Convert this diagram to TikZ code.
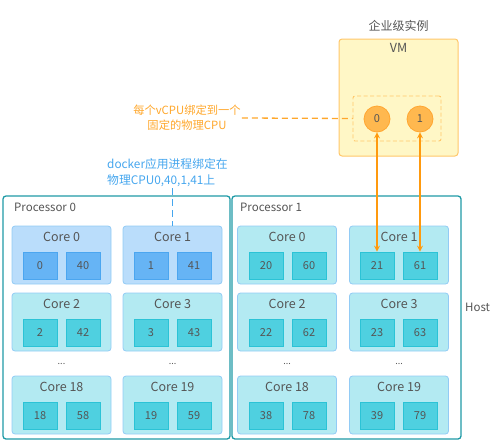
\documentclass[tikz,border=0pt]{standalone}
\usepackage{fontspec}
\setmainfont{Noto Sans CJK SC}
\usepackage{tikz}
\usetikzlibrary{positioning,arrows}

\definecolor{procline}{HTML}{1E9AA6}
\definecolor{corefill}{HTML}{B3EAF2}
\definecolor{coreline}{HTML}{92CBF5}
\definecolor{cpufill}{HTML}{4FD0E0}
\definecolor{cpuline}{HTML}{2BC3D6}
\definecolor{bcorefill}{HTML}{BADDFB}
\definecolor{bcpufill}{HTML}{66B4F5}
\definecolor{bcpuline}{HTML}{4BA6F0}
\definecolor{vmfill}{HTML}{FFF7C6}
\definecolor{vmline}{HTML}{FFC76A}
\definecolor{vcpufill}{HTML}{FFB84F}
\definecolor{vcpuline}{HTML}{FFA630}
\definecolor{pinorange}{HTML}{FF9A0E}
\definecolor{noteorange}{HTML}{FFA72B}
\definecolor{noteblue}{HTML}{45A6EE}
\definecolor{txtgrey}{HTML}{555555}

\begin{document}
\begin{tikzpicture}[x=1pt, y=-1pt,
    procbox/.style={draw=procline, line width=1.3pt, rounded corners=3pt},
    corebox/.style={rectangle, draw=coreline, fill=corefill, line width=0.8pt, rounded corners=3pt, minimum width=99pt, minimum height=58pt},
    bcorebox/.style={corebox, fill=bcorefill},
    corelabel/.style={text=txtgrey, font=\fontsize{12.5}{14}\selectfont, inner sep=0pt},
    cpubox/.style={rectangle, draw=cpuline, fill=cpufill, line width=0.8pt, minimum width=34pt, minimum height=27pt, inner sep=0pt, text=txtgrey, font=\fontsize{11}{13}\selectfont},
    bcpubox/.style={cpubox, draw=bcpuline, fill=bcpufill},
    vcpu/.style={circle, draw=vcpuline, fill=vcpufill, line width=0.8pt, minimum size=26pt, inner sep=0pt, text=txtgrey, font=\fontsize{11}{13}\selectfont},
    plain/.style={text=txtgrey, font=\fontsize{11.5}{14}\selectfont, inner sep=0pt},
    dots/.style={text=txtgrey, font=\fontsize{9}{10}\selectfont, inner sep=0pt}
    ]
        \useasboundingbox (0,0) rectangle (492,447);

        %Processors
        \draw[procbox] (3,196) rectangle (230,439);
        \draw[procbox] (232,196) rectangle (461,439);
        \node[plain, anchor=west] (proc0) at (14,207) {Processor 0};
        \node[plain, anchor=west] (proc1) at (240,207) {Processor 1};
        \node[plain, anchor=west] (host)  at (465,307) {Host};

        %Cores of processor 0
        \node[bcorebox] (p0c0)  at (61.5,255) {};
        \node[bcorebox] (p0c1)  at (172.5,255) {};
        \node[corebox]  (p0c2)  at (61.5,322) {};
        \node[corebox]  (p0c3)  at (172.5,322) {};
        \node[corebox]  (p0c18) at (61.5,405) {};
        \node[corebox]  (p0c19) at (172.5,405) {};
        \node[corelabel] [below=6pt of p0c0.north]  {Core 0};
        \node[corelabel] [below=6pt of p0c1.north]  {Core 1};
        \node[corelabel] [below=6pt of p0c2.north]  {Core 2};
        \node[corelabel] [below=6pt of p0c3.north]  {Core 3};
        \node[corelabel] [below=6pt of p0c18.north] {Core 18};
        \node[corelabel] [below=6pt of p0c19.north] {Core 19};
        \node[dots] (p0d0) at (61.5,364) {...};
        \node[dots] (p0d1) at (172.5,364) {...};

        %Cores of processor 1
        \node[corebox] (p1c0)  at (287,255) {};
        \node[corebox] (p1c1)  at (399,255) {};
        \node[corebox] (p1c2)  at (287,322) {};
        \node[corebox] (p1c3)  at (399,322) {};
        \node[corebox] (p1c18) at (287,405) {};
        \node[corebox] (p1c19) at (399,405) {};
        \node[corelabel] [below=6pt of p1c0.north]  {Core 0};
        \node[corelabel] [below=6pt of p1c1.north]  {Core 1};
        \node[corelabel] [below=6pt of p1c2.north]  {Core 2};
        \node[corelabel] [below=6pt of p1c3.north]  {Core 3};
        \node[corelabel] [below=6pt of p1c18.north] {Core 18};
        \node[corelabel] [below=6pt of p1c19.north] {Core 19};
        \node[dots] (p1d0) at (287,364) {...};
        \node[dots] (p1d1) at (399,364) {...};

        %Logical CPUs
        \node[bcpubox] (cpu0)  at (40,265.5)  {0};
        \node[bcpubox] (cpu40) at (83,265.5)  {40};
        \node[bcpubox] (cpu1)  at (151,265.5) {1};
        \node[bcpubox] (cpu41) at (194,265.5) {41};
        \node[cpubox]  (cpu2)  at (40,332.5)  {2};
        \node[cpubox]  (cpu42) at (83,332.5)  {42};
        \node[cpubox]  (cpu3)  at (151,332.5) {3};
        \node[cpubox]  (cpu43) at (194,332.5) {43};
        \node[cpubox]  (cpu18) at (40,415.5)  {18};
        \node[cpubox]  (cpu58) at (83,415.5)  {58};
        \node[cpubox]  (cpu19) at (151,415.5) {19};
        \node[cpubox]  (cpu59) at (194,415.5) {59};
        \node[cpubox]  (cpu20) at (266,265.5) {20};
        \node[cpubox]  (cpu60) at (309,265.5) {60};
        \node[cpubox]  (cpu21) at (377,265.5) {21};
        \node[cpubox]  (cpu61) at (420,265.5) {61};
        \node[cpubox]  (cpu22) at (266,332.5) {22};
        \node[cpubox]  (cpu62) at (309,332.5) {62};
        \node[cpubox]  (cpu23) at (377,332.5) {23};
        \node[cpubox]  (cpu63) at (420,332.5) {63};
        \node[cpubox]  (cpu38) at (266,415.5) {38};
        \node[cpubox]  (cpu78) at (309,415.5) {78};
        \node[cpubox]  (cpu39) at (377,415.5) {39};
        \node[cpubox]  (cpu79) at (420,415.5) {79};

        %VM
        \node[plain, font=\fontsize{12}{14}\selectfont] (vmtitle) at (398.5,26) {企业级实例};
        \draw[draw=vmline, fill=vmfill, line width=1pt, rounded corners=3pt] (339,39) rectangle (458,156);
        \node[plain, font=\fontsize{12.5}{14}\selectfont] (vmlabel) at (398.5,48) {VM};
        \node[draw=vmline, dash pattern=on 4pt off 2.5pt, line width=0.9pt, rectangle, minimum width=88pt, minimum height=45pt, rounded corners=2pt]
            (vcpus) at (397,118.5) {};
        \node[vcpu] (v0) at (377,119) {0};
        \node[vcpu] (v1) at (420,119) {1};

        %Notes
        \node[text=noteorange, font=\fontsize{11.3}{15}\selectfont, align=center, inner sep=1pt]
            (pinnote) at (187,118) {每个vCPU绑定到一个\\固定的物理CPU};
        \node[text=noteblue, font=\fontsize{11.8}{16}\selectfont, align=left, inner sep=0pt, anchor=west]
            (dockernote) at (107,173) {docker应用进程绑定在\\物理CPU0,40,1,41上};
        \coordinate (dockerend) at (p0c1.north |- 0,188);

        %Lines
        \draw[draw=noteorange, dash pattern=on 6pt off 4pt, line width=1.3pt]
            (pinnote.east) -- (vcpus.west);
        \draw[draw=noteblue, dash pattern=on 7pt off 4pt, line width=1.3pt]
            (dockerend) -- (p0c1.north);
        \draw[<->, >=stealth, draw=pinorange, line width=1.6pt]
            (v0.south) -- (cpu21.north);
        \draw[<->, >=stealth, draw=pinorange, line width=1.6pt]
            (v1.south) -- (cpu61.north);
    \end{tikzpicture}
\end{document}
